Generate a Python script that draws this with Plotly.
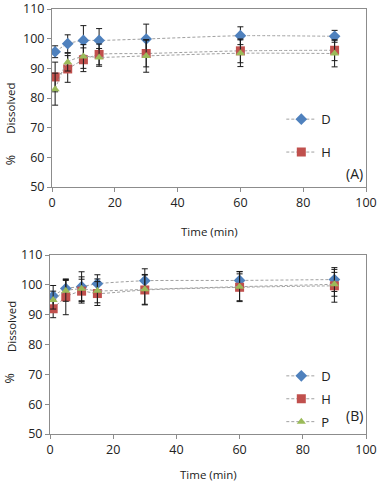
import plotly.graph_objects as go
from plotly.subplots import make_subplots

time_min = [1, 5, 10, 15, 30, 60, 90]

# Panel A
D_A = [95.6, 98.3, 99.4, 99.4, 99.9, 101.0, 100.8]
D_A_err = [2.0, 3.0, 5.0, 4.0, 5.0, 3.0, 2.0]
H_A = [87.1, 89.8, 92.9, 94.7, 95.0, 95.9, 96.1]
H_A_err = [5.0, 4.5, 4.0, 3.5, 4.5, 4.0, 3.5]
P_A = [83.0, 92.1, 94.0, 93.7, 94.2, 95.1, 95.0]
P_A_err = [5.4, 3.0, 4.0, 3.0, 5.5, 4.5, 4.5]

# Panel B
D_B = [96.3, 98.8, 99.4, 100.4, 101.4, 101.5, 101.8]
D_B_err = [3.5, 3.0, 5.0, 3.0, 4.0, 3.0, 4.0]
H_B = [92.0, 96.0, 97.9, 97.1, 98.3, 99.2, 99.7]
H_B_err = [3.0, 6.0, 4.0, 4.0, 5.0, 4.5, 5.5]
P_B = [94.9, 98.0, 98.7, 98.0, 98.5, 99.4, 100.2]
P_B_err = [3.0, 3.5, 4.0, 4.0, 5.0, 5.0, 4.0]

x_ticks = [0, 20, 40, 60, 80, 100]
y_ticks = [50, 60, 70, 80, 90, 100, 110]

colors = {"D": "#4F81BD", "H": "#C0504D", "P": "#9BBB59"}
symbols = {"D": "diamond", "H": "square", "P": "triangle-up"}
sizes = {"D": 9, "H": 9, "P": 8}

FONT = "Open Sans"
TXT = "#222222"

fig = make_subplots(rows=2, cols=1, vertical_spacing=0.16)

def add(name, y, err, row, legend, show):
    fig.add_trace(go.Scatter(
        x=time_min, y=y, name=name, mode="lines+markers",
        line=dict(color="#A0A0A0", width=1, dash="3px,2px", shape="spline", smoothing=0.6),
        marker=dict(color=colors[name], symbol=symbols[name], size=sizes[name]),
        error_y=dict(type="data", array=err, visible=True, color="#1a1a1a", thickness=1, width=3),
        showlegend=show, legend=legend, legendgroup=name + legend,
    ), row=row, col=1)

add("D", D_A, D_A_err, 1, "legend", True)
add("H", H_A, H_A_err, 1, "legend", True)
add("P", P_A, P_A_err, 1, "legend", False)
add("D", D_B, D_B_err, 2, "legend2", True)
add("H", H_B, H_B_err, 2, "legend2", True)
add("P", P_B, P_B_err, 2, "legend2", True)

for r in (1, 2):
    fig.update_xaxes(range=[0, 100], tickvals=x_ticks, showline=True, linecolor="#8c8c8c",
                     mirror=True, ticks="outside", ticklen=4, tickcolor="#8c8c8c",
                     showgrid=False, zeroline=False, automargin=False,
                     tickfont=dict(size=12.5, color=TXT, family=FONT),
                     row=r, col=1)
    fig.update_yaxes(range=[50, 110], tickvals=y_ticks, showline=True, linecolor="#8c8c8c",
                     mirror=True, ticks="outside", ticklen=4, tickcolor="#8c8c8c",
                     showgrid=False, zeroline=False, automargin=False,
                     tickfont=dict(size=12.5, color=TXT, family=FONT),
                     row=r, col=1)

fig.update_xaxes(domain=[2 / 316, 1.0], row=1, col=1)
fig.update_xaxes(domain=[0.0, 1.0], row=2, col=1)
fig.update_yaxes(domain=[0.581, 1.0], row=1, col=1)
fig.update_yaxes(domain=[0.0, 0.421], row=2, col=1)

title_font = dict(size=11.5, color=TXT, family=FONT)
pct_font = dict(size=12.5, color=TXT, family=FONT)
corner_font = dict(size=14, color=TXT, family=FONT)

annotations = [
    # x titles
    dict(text="Time (min)", xref="x domain", yref="y domain", x=0.5, y=-0.25,
         xanchor="center", yanchor="middle", showarrow=False, font=title_font),
    dict(text="Time (min)", xref="x2 domain", yref="y2 domain", x=0.5, y=-0.225,
         xanchor="center", yanchor="middle", showarrow=False, font=title_font),
    # y titles
    dict(text="Dissolved", xref="paper", yref="y domain", x=0, xshift=-39, y=0.44,
         xanchor="center", yanchor="middle", textangle=-90, showarrow=False, font=title_font),
    dict(text="%", xref="paper", yref="y domain", x=0, xshift=-40, y=0.15,
         xanchor="center", yanchor="middle", textangle=-90, showarrow=False, font=pct_font),
    dict(text="Dissolved", xref="paper", yref="y2 domain", x=0, xshift=-39, y=0.598,
         xanchor="center", yanchor="middle", textangle=-90, showarrow=False, font=title_font),
    dict(text="%", xref="paper", yref="y2 domain", x=0, xshift=-40, y=0.31,
         xanchor="center", yanchor="middle", textangle=-90, showarrow=False, font=pct_font),
    # panel labels
    dict(text="(A)", xref="x domain", yref="y domain", x=0.997, y=0.079,
         xanchor="right", yanchor="middle", showarrow=False, font=corner_font),
    dict(text="(B)", xref="x2 domain", yref="y2 domain", x=0.997, y=0.106,
         xanchor="right", yanchor="middle", showarrow=False, font=corner_font),
]

fig.update_layout(
    width=379, height=481,
    margin=dict(l=50, r=13, t=9, b=47),
    paper_bgcolor="white", plot_bgcolor="white",
    font=dict(family=FONT, color=TXT),
    legend=dict(x=0.732, y=0.776, xanchor="left", yanchor="top", bgcolor="rgba(0,0,0,0)",
                font=dict(size=13, family=FONT, color=TXT), tracegroupgap=13, traceorder="grouped"),
    legend2=dict(x=0.732, y=0.172, xanchor="left", yanchor="top", bgcolor="rgba(0,0,0,0)",
                 font=dict(size=13, family=FONT, color=TXT), tracegroupgap=3, traceorder="grouped"),
    annotations=annotations,
)

fig.write_html("out.html")
